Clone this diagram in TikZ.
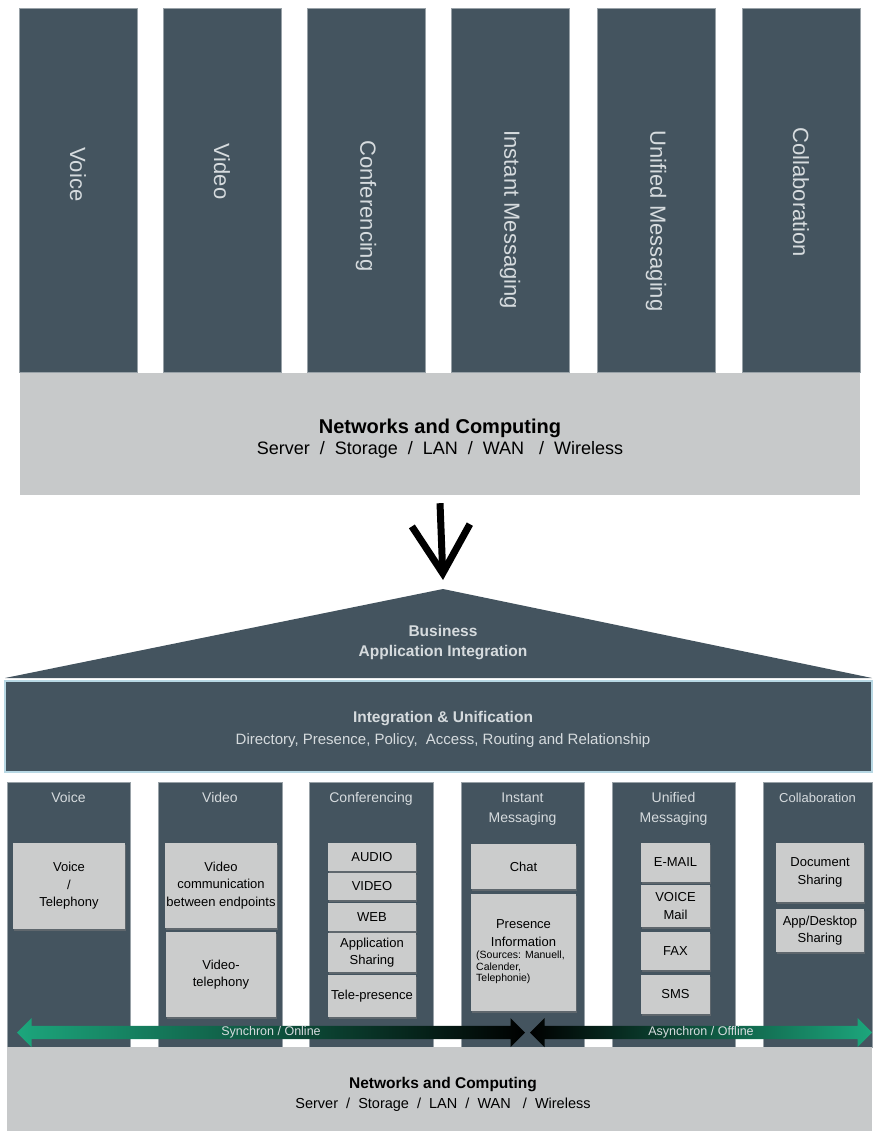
\documentclass[tikz,border=0pt]{standalone}
\usepackage{fontspec}
\setmainfont{Liberation Sans}
\usepackage{tikz}
\usetikzlibrary{shapes,arrows,arrows.meta,positioning,shadows}
\usepackage{xcolor}

\definecolor{slate}{HTML}{44545F}
\definecolor{lightband}{HTML}{C7C9CA}
\definecolor{boxgray}{HTML}{CBCCCC}
\definecolor{paletext}{HTML}{D6DBDE}
\definecolor{edgeblue}{HTML}{B8D8E4}
\definecolor{syncgreen}{HTML}{1CA67C}
\newcommand{\fsz}[2]{\fontsize{#1}{#2}\selectfont}

\begin{document}
\begin{tikzpicture}[x=1pt, y=-1pt,
    col/.style={fill=slate, draw=slate!55!white, line width=0.6pt, minimum width=118pt, minimum height=364pt, inner sep=0pt},
    vlabel/.style={rotate=-90, anchor=west, text=paletext, font={\fsz{22}{26}}},
    band/.style={fill=lightband, inner sep=0pt},
    lcol/.style={fill=slate, draw=slate!55!white, line width=0.6pt, minimum height=265pt, inner sep=0pt},
    colhead/.style={anchor=north, text=paletext, align=center, inner sep=0pt, font={\fsz{14}{20}}},
    ibox/.style={fill=boxgray, inner sep=1pt, align=center, font={\fsz{13}{17.5}}, drop shadow={shadow xshift=1pt, shadow yshift=-1.5pt, opacity=0.45}},
    flow/.style={double arrow, double arrow head extend=7pt, minimum width=29pt, inner sep=0pt, text=paletext, font={\fsz{12.5}{15}}},
]
    \useasboundingbox (0,0) rectangle (872,1131);

    % Before: one silo per service
    \node[col] (voice) at (78,190) {};
    \node[col] (video) at (222,190) {};
    \node[col] (conf) at (366,190) {};
    \node[col] (im) at (510,190) {};
    \node[col] (um) at (656,190) {};
    \node[col] (collab) at (801,190) {};
    \node[vlabel] (voicetxt) at (78,144) {Voice};
    \node[vlabel] (videotxt) at (222,140) {Video};
    \node[vlabel] (conftxt) at (366,137) {Conferencing};
    \node[vlabel] (imtxt) at (510,127) {Instant Messaging};
    \node[vlabel] (umtxt) at (656,127) {Unified Messaging};
    \node[vlabel] (collabtxt) at (801,124) {Collaboration};

    \node[band, minimum width=840pt, minimum height=122pt] (netband) at (440,434) {};
    \node[font={\fsz{20}{24}\bfseries}] (nettitle) at (440,428) {Networks and Computing};
    \node[font={\fsz{18}{22}}] (netsub) at (440,450) {Server~ /~ Storage~ /~ LAN~ /~ WAN~~ /~ Wireless};

    % Roof
    \coordinate (roofl) at (5,678);
    \coordinate (apex) at (443,589);
    \coordinate (roofr) at (872,678);
    \fill[slate] (roofl) -- (apex) -- (roofr) -- cycle;
    \node[text=paletext, align=center, font={\fsz{15.5}{20}\bfseries}] (biz) at (443,643) {Business\\Application Integration};

    \draw[line width=7pt, -{Straight Barb[length=48pt, width=58pt]}] ([yshift=-8pt]netband.south) -- ([yshift=9pt]apex);

    % Integration layer
    \node[fill=slate, draw=edgeblue, line width=2pt, minimum width=867pt, minimum height=91pt, inner sep=0pt] (integ) at (438.5,726) {};
    \node[text=paletext, font={\fsz{15.5}{19}\bfseries}] (integtitle) at (443,719) {Integration \& Unification};
    \node[text=paletext, font={\fsz{15}{19}}] (integsub) at (443,741) {Directory, Presence, Policy,~ Access, Routing and Relationship};

    % After: unified columns
    \node[lcol, minimum width=123pt] (lvoice) at (68.5,914.5) {};
    \node[lcol, minimum width=124pt] (lvideo) at (220,914.5) {};
    \node[lcol, minimum width=124pt] (lconf) at (371,914.5) {};
    \node[lcol, minimum width=123pt] (lim) at (522.5,914.5) {};
    \node[lcol, minimum width=123pt] (lum) at (673.5,914.5) {};
    \node[lcol, minimum width=109pt] (lcollab) at (817.5,914.5) {};

    \node[colhead] (hvoice) at (68.5,788) {\strut Voice};
    \node[colhead] (hvideo) at (220,788) {\strut Video};
    \node[colhead] (hconf) at (371,788) {\strut Conferencing};
    \node[colhead] (him) at (522.5,788) {\strut Instant\\Messaging};
    \node[colhead] (hum) at (673.5,788) {\strut Unified\\Messaging};
    \node[colhead, font={\fsz{13}{20}}] (hcollab) at (817.5,788) {\strut Collaboration};

    % Voice
    \node[ibox, minimum width=112pt, minimum height=86pt] (tel) at (69,886) {Voice\\/\\Telephony};
    % Video
    \node[ibox, minimum width=110pt, minimum height=85pt] (vcom) at (221,885.5) {Video\\communication\\between endpoints};
    \node[ibox, minimum width=110pt, minimum height=85pt] (vtel) at (221,974.5) {Video-\\telephony};
    % Conferencing
    \node[ibox, minimum width=88pt, minimum height=28pt] (audio) at (372,857) {AUDIO};
    \node[ibox, minimum width=88pt, minimum height=27pt] (cvideo) at (372,886.5) {VIDEO};
    \node[ibox, minimum width=88pt, minimum height=28pt] (web) at (372,917) {WEB};
    \node[ibox, minimum width=88pt, minimum height=39pt] (appshare) at (372,952.5) {Application\\Sharing};
    \node[ibox, minimum width=88pt, minimum height=42pt] (telepres) at (372,996) {Tele-presence};
    % Instant Messaging
    \node[ibox, minimum width=105pt, minimum height=45pt] (chat) at (523.5,866.5) {Chat};
    \node[ibox, minimum width=105pt, minimum height=117pt] (presence) at (523.5,952.5) {};
    \node[align=center, font={\fsz{13}{18}}] (presinfo) at (523.5,933) {Presence\\Information};
    \node[align=left, anchor=north west, inner sep=0pt, font={\fsz{10.5}{11.2}}] (pressrc) at (476,951) {(Sources: Manuell,\\Calender,\\Telephonie)};
    % Unified Messaging
    \node[ibox, minimum width=69pt, minimum height=39pt] (email) at (675.5,862.5) {E-MAIL};
    \node[ibox, minimum width=69pt, minimum height=42pt] (vmail) at (675.5,906) {VOICE\\Mail};
    \node[ibox, minimum width=69pt, minimum height=38pt] (fax) at (675.5,951) {FAX};
    \node[ibox, minimum width=69pt, minimum height=39pt] (sms) at (675.5,994.5) {SMS};
    % Collaboration
    \node[ibox, minimum width=88pt, minimum height=59pt] (docshare) at (820,872.5) {Document\\Sharing};
    \node[ibox, minimum width=88pt, minimum height=43pt] (deskshare) at (820,930.5) {App/Desktop\\Sharing};

    % Base layer
    \node[band, minimum width=865pt, minimum height=84pt] (lnetband) at (439.5,1089) {};
    \node[font={\fsz{15.5}{19}\bfseries}] (lnettitle) at (443,1085) {Networks and Computing};
    \node[font={\fsz{14.5}{18}}] (lnetsub) at (443,1105) {Server~ /~ Storage~ /~ LAN~ /~ WAN~~ /~ Wireless};

    % Synchron / Asynchron
    \node[flow, minimum height=508pt, left color=syncgreen, right color=black] (sync) at (271,1032.5) {Synchron / Online};
    \node[flow, minimum height=342pt, left color=black, right color=syncgreen] (async) at (701,1032.5) {Asynchron / Offline};
\end{tikzpicture}
\end{document}
